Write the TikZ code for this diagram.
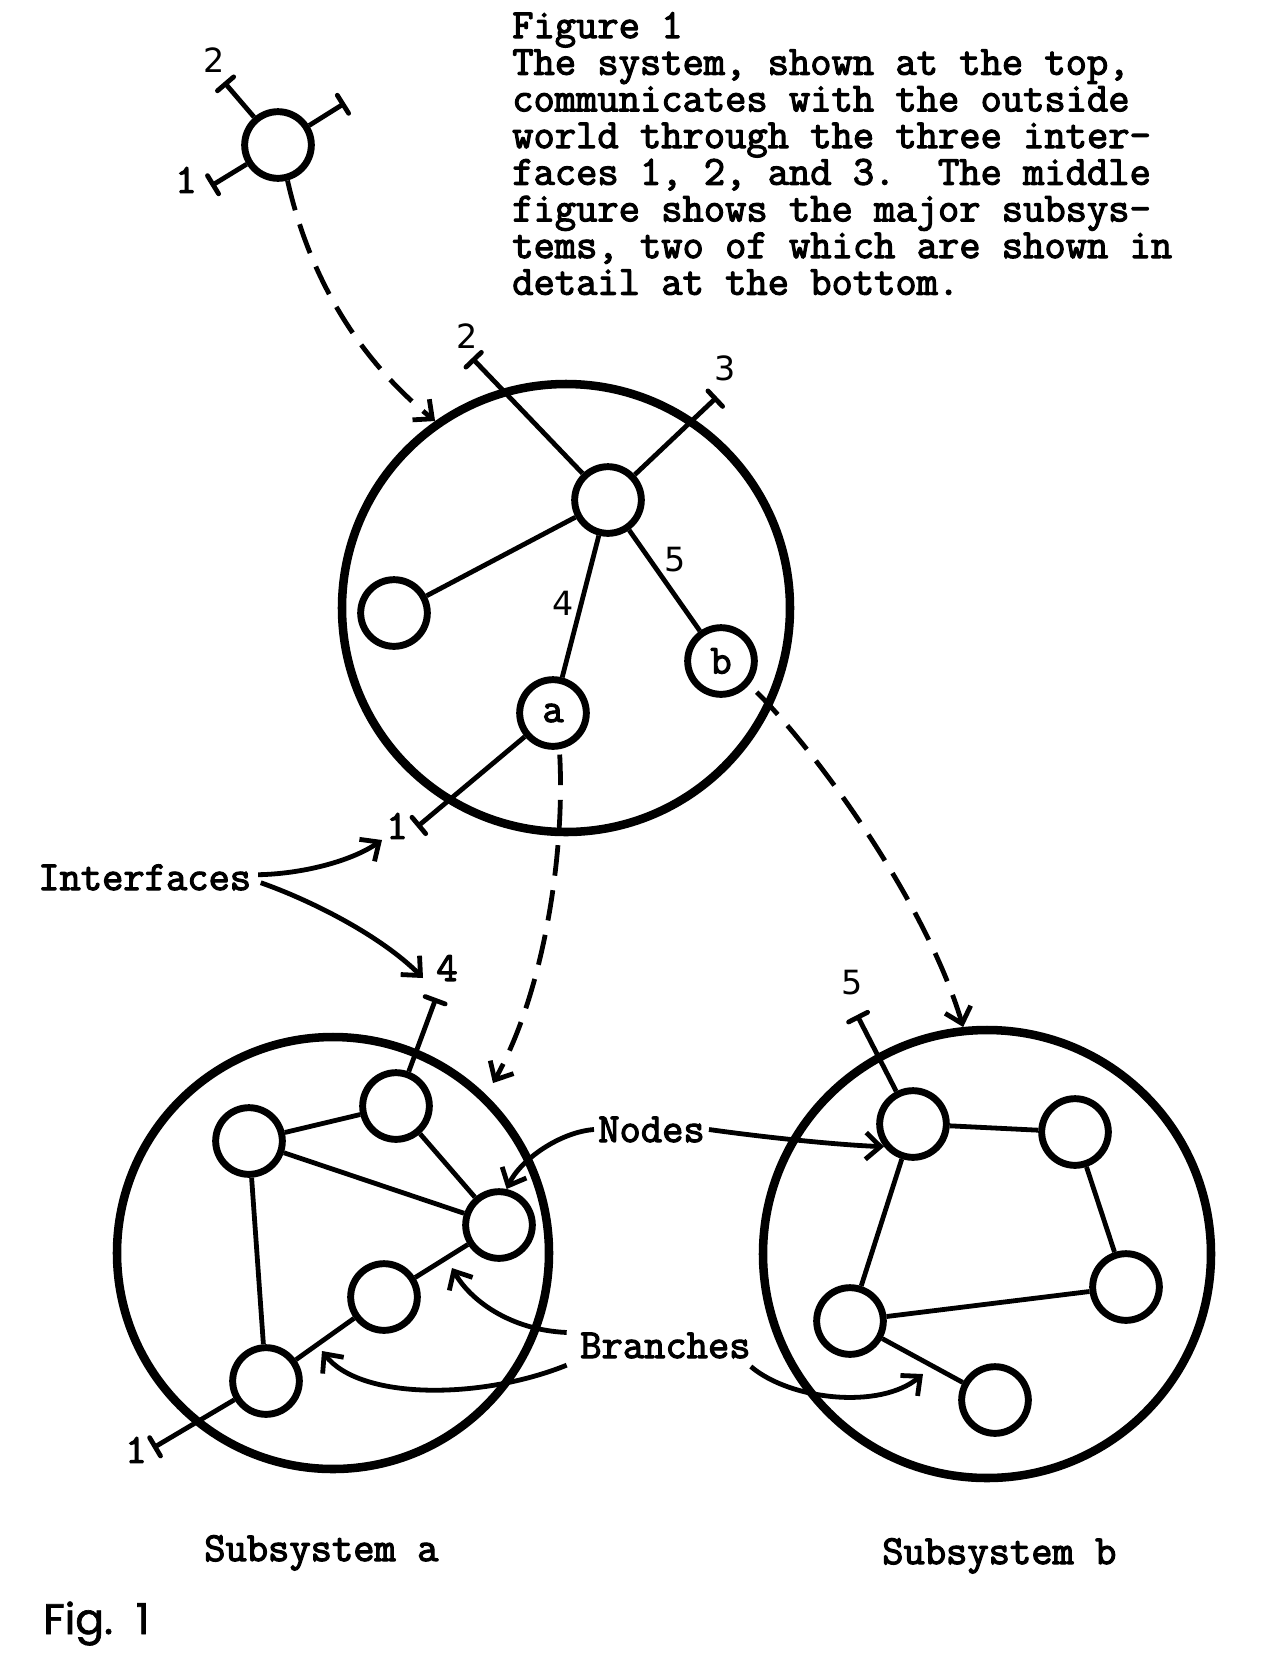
\documentclass[tikz,border=0pt]{standalone}
\usepackage{fontspec}
\usetikzlibrary{arrows.meta,calc}
\newfontfamily\twfont{Latin Modern Mono}[FakeBold=2.8]
\newfontfamily\handfont{DejaVu Sans}
\newfontfamily\figfont{Poppins}[FakeBold=1.5]
\frenchspacing
\begin{document}
\begin{tikzpicture}[x=0.75pt,y=-0.75pt,
  tw/.style={font=\twfont\fontsize{31pt}{32pt}\selectfont, inner sep=0pt},
  hand/.style={font=\handfont\fontsize{25pt}{27pt}\selectfont, inner sep=0pt},
  sysc/.style={circle, draw, line width=6.4pt, inner sep=0pt},
  nodec/.style={circle, draw, line width=5.2pt, minimum size=50pt, inner sep=0pt, tw},
  branch/.style={line width=3.6pt},
  stub/.style={line width=3.6pt, -{Bar[width=16pt,round]}},
  flow/.style={line width=3.6pt, dash pattern=on 23pt off 11pt, -{Straight Barb[length=11pt,width=20pt]}},
  pointer/.style={line width=3.6pt, -{Straight Barb[length=11pt,width=20pt]}},
]
\fill[white] (0,0) rectangle (1284,1668);
\useasboundingbox (0,0) rectangle (1284,1668);

% caption
\node[tw, anchor=base west] (caption) at (512,38) {\parbox[t]{720pt}{\fontsize{31pt}{27.5pt}\selectfont\raggedright
Figure 1\\
The system, shown at the top,\\
communicates with the outside\\
world through the three inter-\\
faces 1, 2, and 3.~~The middle\\
figure shows the major subsys-\\
tems, two of which are shown in\\
detail at the bottom.}};

% top system
\node[nodec] (sys) at (278,145) {};
\coordinate (sysE2) at (224,82);
\coordinate (sysE3) at (345,103);
\coordinate (sysE1) at (211,186);
\draw[stub] (sys) -- (sysE2);
\draw[stub] (sys) -- (sysE3);
\draw[stub] (sys) -- (sysE1);
\node[hand] (sysL2) at (214,60) {2};
\node[tw] (sysL1) at (186,180) {1};

% middle system
\node[sysc, minimum size=336pt] (mid) at (566,608) {};
\node[nodec] (mT) at (608,500) {};
\node[nodec] (mL) at (394,613) {};
\node[nodec] (ma) at (553,713) {a};
\node[nodec] (mb) at (721,661) {b};
\draw[branch] (mT) -- (mL);
\draw[branch] (mT) -- (ma);
\draw[branch] (mT) -- (mb);
\node[hand] (l4) at (563,603) {4};
\node[hand] (l5) at (675,560) {5};
\coordinate (mE2) at (472,358);
\coordinate (mE3) at (717,397);
\coordinate (mE1) at (417,827);
\draw[stub] (mT) -- (mE2);
\draw[stub] (mT) -- (mE3);
\draw[stub] (ma) -- (mE1);
\node[hand] (mL2) at (467,336) {2};
\node[hand] (mL3) at (725,368) {3};
\node[tw] (mL1) at (397,826) {1};

\draw[flow] (sys.-75) .. controls (310,280) and (360,360) .. (mid.125);

% subsystem a
\node[sysc, minimum size=324pt] (subA) at (333,1253) {};
\node[nodec] (n1) at (249,1141) {};
\node[nodec] (n2) at (396,1106) {};
\node[nodec] (n3) at (499,1225) {};
\node[nodec] (n4) at (384,1297) {};
\node[nodec] (n5) at (266,1381) {};
\draw[branch] (n1) -- (n2);
\draw[branch] (n1) -- (n3);
\draw[branch] (n2) -- (n3);
\draw[branch] (n1) -- (n5);
\draw[branch] (n5) -- (n4);
\draw[branch] (n4) -- (n3);
\coordinate (aE4) at (436,998);
\coordinate (aE1) at (153,1448);
\draw[stub] (n2) -- (aE4);
\draw[stub] (n5) -- (aE1);
\node[tw] (aL4) at (447,968) {4};
\node[tw] (aL1) at (136,1450) {1};

% subsystem b
\node[sysc, minimum size=336pt] (subB) at (987,1254) {};
\node[nodec] (m1) at (913,1124) {};
\node[nodec] (m2) at (1075,1132) {};
\node[nodec] (m3) at (1126,1287) {};
\node[nodec] (m4) at (850,1321) {};
\node[nodec] (m5) at (995,1400) {};
\draw[branch] (m1) -- (m2);
\draw[branch] (m2) -- (m3);
\draw[branch] (m3) -- (m4);
\draw[branch] (m4) -- (m1);
\draw[branch] (m4) -- (m5);
\coordinate (bE5) at (857,1015);
\draw[stub] (m1) -- (bE5);
\node[hand] (bL5) at (852,983) {5};

% dashed refinements
\coordinate (tipA) at (493,1083);
\draw[flow, shorten <=4pt] (ma.-80) .. controls (565,850) and (545,990) .. (tipA);
\draw[flow, shorten <=8pt] (mb.-40) .. controls (815,750) and (925,900) .. (subB.96);

% Interfaces
\node[tw, anchor=base west] (intf) at (38,890) {Interfaces};
\coordinate (iTip1) at (382,840);
\coordinate (iTip2) at (423,978);
\draw[pointer] ([xshift=5pt,yshift=2pt]intf.east) .. controls (300,874) and (350,862) .. (iTip1);
\draw[pointer] ([xshift=7pt,yshift=-4pt]intf.east) .. controls (310,900) and (380,935) .. (iTip2);

% Nodes
\node[tw, anchor=base west] (nodesL) at (598,1142) {Nodes};
\draw[pointer] ([xshift=-3pt]nodesL.west) .. controls (560,1132) and (520,1160) .. (n3.78);
\draw[pointer] ([xshift=3pt]nodesL.east) .. controls (770,1138) and (840,1145) .. (m1.218);

% Branches
\node[tw, anchor=base west] (brL) at (580,1358) {Branches};
\coordinate (bt1) at (452,1268);
\coordinate (bt2) at (322,1351);
\coordinate (bt3) at (923,1374);
\draw[pointer] ([xshift=-10pt]brL.north west) .. controls (510,1330) and (470,1300) .. (bt1);
\draw[pointer] ([xshift=-10pt,yshift=-5pt]brL.south west) .. controls (480,1400) and (360,1400) .. (bt2);
\draw[pointer] ([yshift=-6pt]brL.south east) .. controls (790,1400) and (880,1410) .. (bt3);

% bottom labels
\node[tw, anchor=base west] (subAL) at (204,1561) {Subsystem a};
\node[tw, anchor=base west] (subBL) at (882,1564) {Subsystem b};
\node[font=\figfont\fontsize{32pt}{34pt}\selectfont, anchor=base west, inner sep=0pt] (fig) at (43,1634) {Fig.\ \ 1};
\end{tikzpicture}
\end{document}
